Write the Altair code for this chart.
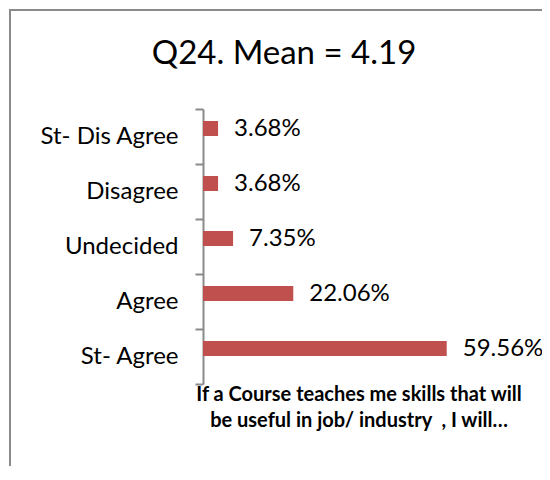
import altair as alt
import pandas as pd

categories = ["St- Dis Agree", "Disagree", "Undecided", "Agree", "St- Agree"]
values = [3.68, 3.68, 7.35, 22.06, 59.56]
labels = ["3.68%", "3.68%", "7.35%", "22.06%", "59.56%"]

title_text = "Q24. Mean = 4.19"
x_title = ["If a Course teaches me skills that will", "be useful in job/ industry \u00a0, I will…"]

df = pd.DataFrame({"cat": categories, "val": values, "lab": labels})

FONT = "Lato"
W = 311
H = 275
PL, PT = 195, 101
PR = 534 - PL - W
PB = 458 - PT - H

y_enc = alt.Y("cat:N", sort=categories,
              scale=alt.Scale(paddingInner=0, paddingOuter=0),
              axis=alt.Axis(title=None, domainColor="#8a8a8a", domainWidth=2,
                            tickColor="#8a8a8a", tickWidth=2, tickSize=8,
                            tickBand="extent", labelFont=FONT, labelFontSize=24,
                            labelColor="black", labelPadding=17, grid=False))
x_enc = alt.X("val:Q", scale=alt.Scale(domain=[0, 76], nice=False),
              axis=alt.Axis(title=x_title, domain=False, ticks=False, labels=False,
                            grid=False, titleFont=FONT, titleFontSize=20,
                            titleFontWeight="bold", titleColor="black",
                            titleLineHeight=26, titlePadding=0))

bars = alt.Chart(df).mark_bar(size=15, yOffset=-8, color="#C0504D").encode(
    x=x_enc, y=y_enc)

texts = alt.Chart(df).mark_text(align="left", baseline="middle", dx=16, yOffset=-8,
                                font=FONT, fontSize=24, color="black").encode(
    x=alt.X("val:Q"), y=alt.Y("cat:N", sort=categories), text="lab:N")

frame_df = pd.DataFrame({"k": [0]})
title_df = pd.DataFrame({"t": [title_text]})

title_mark = alt.Chart(title_df).mark_text(align="center", baseline="alphabetic",
                                           font=FONT, fontSize=33, color="black").encode(
    x=alt.value(81), y=alt.value(-45), text="t:N")

border_left = alt.Chart(frame_df).mark_rule(color="#8a8a8a", strokeWidth=2, strokeCap="butt").encode(
    x=alt.value(-193), y=alt.value(-100), y2=alt.value(420))
border_top = alt.Chart(frame_df).mark_rule(color="#8a8a8a", strokeWidth=2, strokeCap="butt").encode(
    x=alt.value(-194), x2=alt.value(420), y=alt.value(-99))

chart = alt.layer(bars, texts, title_mark, border_left, border_top).properties(
    width=W, height=H,
    autosize=alt.AutoSizeParams(type="none"),
    padding={"left": PL, "top": PT, "right": PR, "bottom": PB},
).configure(background="transparent").configure_view(stroke=None, strokeWidth=0)

chart.save("out.html", embed_options={"renderer": "svg", "actions": False})
